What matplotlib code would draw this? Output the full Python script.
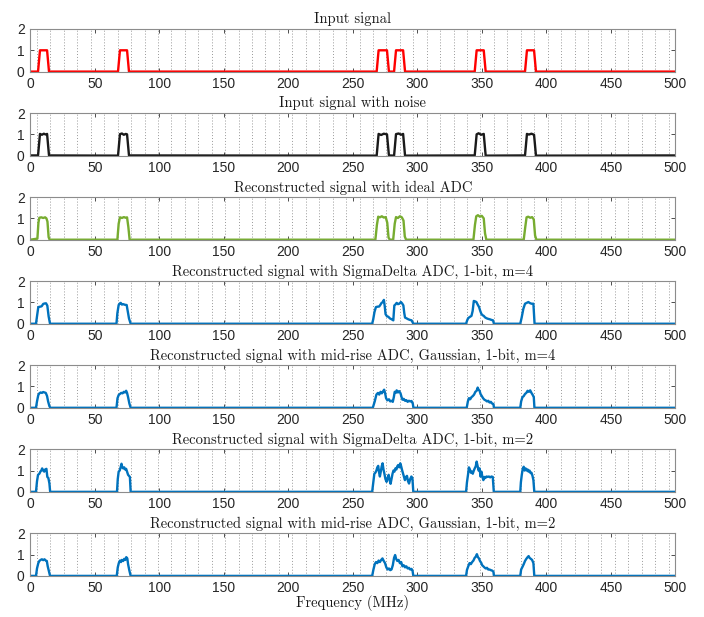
import numpy as np
import matplotlib
matplotlib.use("Agg")
import matplotlib.pyplot as plt
from matplotlib.ticker import FixedLocator

# ---------------- data ----------------
titles = [
    "Input signal",
    "Input signal with noise",
    "Reconstructed signal with ideal ADC",
    "Reconstructed signal with SigmaDelta ADC, 1-bit, m=4",
    "Reconstructed signal with mid-rise ADC, Gaussian, 1-bit, m=4",
    "Reconstructed signal with SigmaDelta ADC, 1-bit, m=2",
    "Reconstructed signal with mid-rise ADC, Gaussian, 1-bit, m=2",
]
xlabel_text = "Frequency (MHz)"
x_ticks = [0, 50, 100, 150, 200, 250, 300, 350, 400, 450, 500]
y_ticks = [0, 1, 2]

input_x = [0, 6, 7.5, 13, 14.5, 68, 69.5, 75, 76.5,
           268.5, 270, 276.5, 278, 282, 283.5, 289, 290.5,
           344.5, 346, 351.5, 353, 383.5, 385, 390.5, 392, 500]
input_y = [0, 0, 1, 1, 0, 0, 1, 1, 0,
           0, 1, 1, 0, 0, 1, 1, 0,
           0, 1, 1, 0, 0, 1, 1, 0, 0]

noise_x = [0, 6, 7.5, 9, 10.5, 12, 13, 14.5, 68, 69.5, 71, 72.5, 74, 75, 76.5,
           268.5, 270, 272, 274, 276.5, 278, 282, 283.5, 285.5, 287.5, 289, 290.5,
           344.5, 346, 347.5, 349.5, 351.5, 353, 383.5, 385, 386.5, 388.5, 390.5, 392, 500]
noise_y = [0.01, 0.01, 1.02, 0.98, 1.03, 0.99, 1.02, 0.01, 0.0, 1.01, 1.04, 0.98, 1.02, 1.0, 0.01,
           0.0, 1.02, 0.97, 1.03, 1.0, 0.01, 0.0, 1.01, 1.04, 0.98, 1.02, 0.0,
           0.01, 1.0, 1.05, 0.98, 1.02, 0.0, 0.01, 1.02, 0.99, 1.03, 0.98, 0.0, 0.01]

ideal_x = [0, 5.5, 6.3, 7, 8.5, 10, 11.5, 12.5, 13.3, 14.2, 15,
           67.5, 68.5, 69.5, 71, 72.5, 74, 75, 76, 77,
           267.5, 268.7, 269.7, 271, 272.5, 274, 275.5, 276.7, 277.7, 278.7,
           281.3, 282.5, 283.5, 285, 286.5, 288, 289.3, 290.3, 291.3,
           343.5, 344.7, 345.7, 347, 348.5, 350, 351.5, 352.5, 353.5,
           382.5, 383.7, 384.7, 386, 387.5, 389, 390.3, 391.3, 392.3, 500]
ideal_y = [0, 0.05, 0.8, 1.03, 1.05, 1.02, 1.05, 1.0, 0.85, 0.12, 0,
           0.0, 0.75, 1.05, 1.02, 1.06, 1.03, 1.05, 0.6, 0.0,
           0.0, 0.7, 1.08, 1.05, 1.1, 1.04, 1.06, 0.8, 0.1, 0.0,
           0.0, 0.75, 1.06, 1.02, 1.1, 1.05, 0.9, 0.15, 0.0,
           0.0, 0.7, 1.1, 1.15, 1.08, 1.12, 1.0, 0.3, 0.0,
           0.0, 0.6, 1.05, 1.08, 1.03, 1.06, 0.95, 0.2, 0.0, 0.0]

sd4_x = [0, 4.4, 5.2, 6.2, 7.5, 8.8, 10, 11, 12.2, 13.2, 14.2, 15.3,
         66.8, 67.5, 68.5, 69.3, 70.1, 71, 72, 73.4, 74.7, 75.5, 76.5, 77.8,
         265, 265.8, 266.8, 267.9, 269, 270.5, 271.5, 272.3, 273.3, 274.1, 274.8, 275.4, 276.5,
         277.5, 278.8, 280.1, 281.4, 282.2, 283, 284, 285, 286, 287.3, 288.3, 289.2, 289.9,
         290.5, 291.8, 293, 294.3, 295.6, 296.9,
         337.8, 338.6, 339.4, 340.7, 342, 342.9, 343.8, 344.8, 345.8, 346.8, 347.9, 348.8,
         349.7, 350.6, 351.5, 352.5, 353.6, 354.9, 356.2, 357.5, 358.7, 359.4,
         379.8, 380.9, 382.2, 383.5, 384.8, 386.1, 387.3, 388.6, 390, 390.9, 500]
sd4_y = [0, 0, 0.35, 0.78, 0.8, 0.82, 0.93, 0.95, 0.96, 0.85, 0.35, 0,
         0, 0.5, 0.88, 0.95, 0.98, 0.9, 0.92, 0.89, 0.88, 0.6, 0.25, 0,
         0, 0.2, 0.55, 0.78, 0.8, 0.81, 0.9, 0.98, 1.02, 1.12, 0.8, 0.45, 0.35,
         0.33, 0.25, 0.21, 0.16, 0.86, 0.9, 0.98, 0.92, 0.94, 1.02, 0.95, 0.86, 0.5,
         0.29, 0.25, 0.21, 0.18, 0.16, 0,
         0, 0.15, 0.26, 0.32, 0.37, 0.6, 1.07, 1.05, 1.02, 0.9, 0.78, 0.6,
         0.46, 0.4, 0.37, 0.3, 0.26, 0.23, 0.21, 0.18, 0.16, 0,
         0, 0.29, 0.7, 0.94, 0.98, 1.02, 0.97, 0.94, 0.94, 0, 0]

mr4_x = [0, 4.4, 5.2, 6.2, 7, 8, 9, 10, 11, 12, 13, 13.8, 14.8, 15.5,
         66.8, 67.6, 68.5, 69.5, 70.5, 71.5, 72.5, 73.5, 74.3, 75, 75.8, 76.8, 77.8,
         265.5, 267, 268.3, 269.5, 270.5, 271.5, 272.5, 273.5, 274.3, 275, 275.8, 276.8, 278,
         279, 280, 281, 281.8, 282.5, 283.3, 284, 285, 286, 287, 287.8, 288.5, 289.5, 290.5,
         291.5, 292.5, 293.5, 294.5, 295.5, 296.5, 297,
         338.3, 339.2, 340, 341, 342, 343, 344, 345, 346, 346.8, 347.5, 348.3, 349, 350, 351,
         352, 353, 354, 355, 356, 357, 358, 359, 359.4,
         379.8, 380.5, 381.5, 382.5, 383.5, 384.5, 385.5, 386.5, 387.5, 388.5, 389.5, 390.3, 390.8, 500]
mr4_y = [0, 0, 0.3, 0.6, 0.68, 0.72, 0.7, 0.74, 0.72, 0.7, 0.55, 0.3, 0.08, 0,
         0, 0.45, 0.6, 0.65, 0.7, 0.68, 0.75, 0.72, 0.8, 0.7, 0.5, 0.2, 0,
         0, 0.3, 0.62, 0.7, 0.62, 0.75, 0.68, 0.78, 0.85, 0.7, 0.45, 0.35, 0.4,
         0.3, 0.33, 0.28, 0.5, 0.75, 0.7, 0.82, 0.72, 0.78, 0.68, 0.5, 0.38, 0.42, 0.33,
         0.36, 0.28, 0.33, 0.3, 0.32, 0.2, 0,
         0, 0.3, 0.45, 0.4, 0.5, 0.55, 0.62, 0.75, 0.8, 0.95, 0.85, 0.8, 0.65, 0.55, 0.45,
         0.38, 0.35, 0.3, 0.33, 0.25, 0.28, 0.2, 0.18, 0,
         0, 0.3, 0.5, 0.55, 0.65, 0.7, 0.8, 0.75, 0.82, 0.7, 0.6, 0.5, 0, 0]

sd2_x = [0, 4.4, 5.2, 6, 7, 7.8, 8.5, 9.2, 10, 10.8, 11.5, 12.5, 13.2, 14, 14.8, 15.4,
         67.2, 67.8, 68.5, 69.3, 70, 70.7, 71.3, 72, 72.8, 73.5, 74.3, 75, 75.8, 76.5, 77.2, 77.8,
         265, 265.8, 266.7, 267.5, 268.3, 269, 269.7, 270.4, 271, 271.7, 272.4, 273.1, 273.8,
         274.5, 275.3, 276.2, 277, 277.8, 278.5, 279.3, 280, 280.8, 281.5, 282.3, 283, 283.8,
         284.5, 285.2, 286, 286.8, 287.5, 288.3, 289, 289.7, 290.4, 291.2, 292, 292.8, 293.6,
         294.5, 295.4, 296.2, 296.9,
         337.8, 338.5, 339.3, 340, 340.8, 341.5, 342.3, 343, 343.8, 344.5, 345.3, 346, 346.8,
         347.5, 348.3, 349, 349.7, 350.5, 351.2, 352, 352.8, 353.6, 354.5, 355.5, 356.5, 357.5,
         358.5, 359.3,
         379.8, 380.3, 381, 381.8, 382.5, 383.2, 384, 384.8, 385.5, 386.2, 387, 387.8, 388.5,
         389.3, 390, 390.7, 500]
sd2_y = [0, 0, 0.5, 0.8, 0.85, 0.95, 1.0, 1.1, 1.0, 0.95, 1.05, 1.08, 0.7, 0.65, 0.4, 0,
         0, 0.6, 0.95, 1.0, 1.15, 1.32, 1.15, 1.1, 1.15, 1.05, 1.08, 0.95, 0.8, 0.75, 0.7, 0,
         0, 0.4, 0.85, 0.9, 1.0, 1.15, 1.22, 0.9, 0.72, 0.95, 1.2, 1.34, 1.05,
         0.85, 0.6, 0.47, 0.65, 0.8, 0.55, 0.38, 0.6, 0.85, 1.0, 0.95, 1.1, 1.05,
         1.2, 1.26, 1.15, 1.34, 1.2, 1.0, 0.85, 0.7, 0.55, 0.7, 0.75, 0.5, 0.39,
         0.6, 0.72, 0.65, 0,
         0, 0.45, 0.8, 1.15, 1.05, 0.9, 0.95, 0.85, 1.0, 1.1, 1.2, 1.42, 1.2,
         1.0, 1.1, 0.72, 0.95, 0.7, 0.55, 0.7, 0.65, 0.72, 0.7, 0.72, 0.68, 0.72,
         0.7, 0,
         0, 0.45, 0.8, 1.1, 1.18, 1.0, 1.1, 1.0, 1.05, 0.95, 1.0, 0.88, 0.9,
         0.75, 0.55, 0, 0]

mr2_x = [0, 4.4, 5.2, 6.2, 7, 8, 9, 10, 11, 12, 12.8, 13.5, 14.3, 15.3,
         67, 67.8, 68.6, 69.5, 70.3, 71, 72, 72.8, 73.6, 74.4, 75.2, 75.8, 76.8, 77.8,
         265, 266, 267, 268, 269, 270, 271, 272, 273, 274, 275, 276, 277, 278, 279, 280, 281,
         282, 282.8, 283.6, 284.5, 285.5, 286.5, 287.5, 288.5, 289.5, 290.5, 291.5, 292.5,
         293.5, 294.5, 295.5, 296.3, 296.9,
         337.8, 338.5, 339.5, 340.5, 341.5, 342.5, 343.5, 344.5, 345.3, 346.2, 347, 347.8,
         348.6, 349.5, 350.3, 351.2, 352, 353, 354, 355, 356, 357, 358, 359, 359.4,
         379.8, 380.5, 381.5, 382.5, 383.5, 384.5, 385.5, 386.3, 387, 388, 389, 390, 390.7, 500]
mr2_y = [0, 0, 0.35, 0.6, 0.7, 0.75, 0.78, 0.74, 0.78, 0.72, 0.7, 0.45, 0.25, 0,
         0, 0.4, 0.6, 0.72, 0.65, 0.75, 0.7, 0.8, 0.75, 0.88, 0.82, 0.55, 0.25, 0,
         0, 0.3, 0.55, 0.65, 0.6, 0.72, 0.65, 0.75, 0.82, 0.7, 0.6, 0.4, 0.3, 0.35, 0.27, 0.3, 0.5,
         0.85, 0.98, 0.8, 0.7, 0.75, 0.6, 0.65, 0.45, 0.5, 0.4, 0.45, 0.35,
         0.38, 0.3, 0.33, 0.25, 0,
         0, 0.28, 0.45, 0.6, 0.55, 0.65, 0.72, 0.85, 0.9, 1.02, 0.88, 0.82,
         0.7, 0.62, 0.5, 0.45, 0.4, 0.35, 0.38, 0.3, 0.3, 0.27, 0.25, 0.2, 0,
         0, 0.3, 0.42, 0.55, 0.7, 0.8, 0.88, 0.93, 0.85, 0.8, 0.75, 0.6, 0, 0]

series_x = [input_x, noise_x, ideal_x, sd4_x, mr4_x, sd2_x, mr2_x]
series_y = [input_y, noise_y, ideal_y, sd4_y, mr4_y, sd2_y, mr2_y]
colors = ["#FF0000", "#1A1A1A", "#77AC30", "#0072BD", "#0072BD", "#0072BD", "#0072BD"]

# grid of frequency cells (dotted lines)
n_cells = 48
cell_edges = (np.arange(n_cells) + 0.5) * 500.0 / n_cells

# ---------------- figure ----------------
W, H = 704, 617
fig = plt.figure(figsize=(W / 100, H / 100), dpi=100)
left_px, right_px = 30.3, 675.3
top0, pitch, h_px = 29.0, 84.05, 42.6

serif = ["cmr10", "DejaVu Serif"]
tick_font = "Liberation Sans"
axcol = "#4d4d4d"

for i in range(7):
    top = top0 + pitch * i
    ax = fig.add_axes([left_px / W, 1 - (top + h_px) / H,
                       (right_px - left_px) / W, h_px / H])
    ax.plot(series_x[i], series_y[i], color=colors[i], lw=1.7, solid_joinstyle="round")
    ax.set_xlim(0, 500)
    ax.set_ylim(0, 2)
    ax.xaxis.set_major_locator(FixedLocator(x_ticks))
    ax.yaxis.set_major_locator(FixedLocator(y_ticks))
    ax.xaxis.set_minor_locator(FixedLocator(cell_edges))
    ax.grid(True, which="minor", axis="x", linestyle=(0, (1, 2)), color="#777777", lw=0.7, alpha=0.75)
    ax.tick_params(which="major", direction="in", length=3, width=0.7, color=axcol,
                   top=True, right=True, labelsize=10, labelcolor="#262626", pad=4)
    ax.tick_params(which="minor", length=0)
    for lab in ax.get_xticklabels() + ax.get_yticklabels():
        lab.set_fontfamily(tick_font)
    for sp in ax.spines.values():
        sp.set_color("#8c8c8c")
        sp.set_linewidth(0.8)
    ax.set_title(titles[i], family=serif, fontsize=10.5, pad=4, color="#1a1a1a")

fig.text((left_px + right_px) / 2 / W, 1 - 603 / H, xlabel_text, family=serif,
         fontsize=10.5, ha="center", va="center", color="#1a1a1a")

fig.savefig("out.png", dpi=100)
